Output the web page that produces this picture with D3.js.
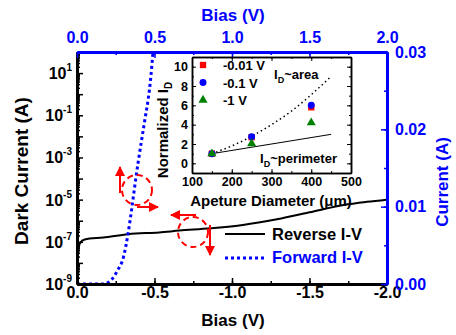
<!DOCTYPE html>
<html>
<head>
<meta charset="utf-8">
<script src="https://cdn.jsdelivr.net/npm/d3@7"></script>
<style>
  body { margin: 0; background: #fff; }
  text { font-family: Arial, "Liberation Sans", sans-serif; font-weight: bold; }
</style>
</head>
<body>
<script>
// reverse I-V (bottom + left log axes)
var revBias = [0, -0.002, -0.008, -0.019, -0.05, -0.17, -0.33, -0.53, -0.66, -0.86, -1.07, -1.29, -1.5, -1.72, -1.87, -2.0];
var revCurrent = [1e-9, 5e-9, 3e-8, 8.7e-8, 1.3e-7, 1.6e-7, 2.3e-7, 2.8e-7, 3.4e-7, 4.4e-7, 6.3e-7, 1.17e-6, 2.5e-6, 5.6e-6, 7.9e-6, 1.0e-5];

// forward I-V (top + right linear axes)
var fwdBias = [0, 0.1, 0.17, 0.22, 0.26, 0.30, 0.33, 0.355, 0.375, 0.395, 0.42, 0.44, 0.46, 0.475, 0.49];
var fwdCurrent = [0, 0, 0, 0.0005, 0.0017, 0.0035, 0.0066, 0.0100, 0.0130, 0.0158, 0.0190, 0.0215, 0.0240, 0.0265, 0.0300];

var logTickLabels = [1e-9, 1e-7, 1e-5, 1e-3, 1e-1, 1e1];

// inset
var diameters = [150, 250, 400];
var nd001 = [1, 2.7, 5.8];
var nd01 = [1, 2.75, 6.0];
var nd1 = [1, 2.05, 4.2];
var areaD = [150, 200, 250, 300, 350, 400, 450];
var areaN = [1, 1.8, 2.8, 4, 5.4, 7.1, 9];
var perimD = [150, 450];
var perimN = [1, 3];

var svg = d3.select("body").append("svg")
            .attr("width", 456)
            .attr("height", 335);

var L = 77, R = 387, T = 52, B = 284;

var xBot = d3.scaleLinear().domain([0, -2]).range([L, R]);
var xTop = d3.scaleLinear().domain([0, 2]).range([L, R]);
var yLog = d3.scaleLog().domain([1e-9, 1e2]).range([B, T]);
var yLin = d3.scaleLinear().domain([0, 0.03]).range([B, T]);

svg.append("clipPath").attr("id", "clip")
   .append("rect").attr("x", L).attr("y", T).attr("width", R - L).attr("height", B - T);

var plot = svg.append("g").attr("clip-path", "url(#clip)");

plot.append("path")
    .datum(d3.range(revBias.length))
    .attr("fill", "none")
    .attr("stroke", "#000")
    .attr("stroke-width", 2)
    .attr("d", d3.line().curve(d3.curveMonotoneX)
                 .x(function(i){ return xBot(revBias[i]); })
                 .y(function(i){ return yLog(revCurrent[i]); }));

plot.append("path")
    .datum(d3.range(fwdBias.length))
    .attr("fill", "none")
    .attr("stroke", "#0000ff")
    .attr("stroke-width", 3)
    .attr("stroke-dasharray", "3,3")
    .attr("d", d3.line().curve(d3.curveMonotoneX)
                 .x(function(i){ return xTop(fwdBias[i]); })
                 .y(function(i){ return yLin(fwdCurrent[i]); }));

// axes -- ticks point inward
function styleAxis(g, color, width) {
  g.select(".domain").attr("stroke", color).attr("stroke-width", width);
  g.selectAll(".tick line").attr("stroke", color).attr("stroke-width", 1.5);
  g.selectAll("text").attr("fill", color).style("font-size", "16px")
   .style("font-family", "Arial, 'Liberation Sans', sans-serif").style("font-weight", "bold");
}
var fmt1 = function(d){ return d.toFixed(1); };

// bottom
svg.append("g").attr("transform", "translate(0," + B + ")")
   .call(d3.axisBottom(xBot).tickValues(d3.range(0, -2.01, -0.25)).tickFormat("").tickSizeInner(-3).tickSizeOuter(0))
   .call(styleAxis, "#000", 3);
svg.append("g").attr("transform", "translate(0," + B + ")")
   .call(d3.axisBottom(xBot).tickValues([0, -0.5, -1, -1.5, -2]).tickFormat(fmt1).tickSizeInner(-6).tickSizeOuter(0).tickPadding(3))
   .call(styleAxis, "#000", 3);

// left (log)
var minorLog = [];
d3.range(-9, 2).forEach(function(e){ for (var m = 2; m < 10; m++) minorLog.push(m * Math.pow(10, e)); });
svg.append("g").attr("transform", "translate(" + L + ",0)")
   .call(d3.axisLeft(yLog).tickValues(minorLog).tickFormat("").tickSizeInner(-3).tickSizeOuter(0))
   .call(styleAxis, "#000", 3);
svg.append("g").attr("transform", "translate(" + L + ",0)")
   .call(d3.axisLeft(yLog).tickValues(d3.range(-9, 3).map(function(e){ return Math.pow(10, e); }))
           .tickFormat("").tickSizeInner(-6).tickSizeOuter(0))
   .call(styleAxis, "#000", 3);
var logLab = svg.append("g").selectAll("text").data(logTickLabels).enter()
   .append("text")
   .attr("x", 72)
   .attr("y", function(d){ return yLog(d) + 6; })
   .attr("text-anchor", "end")
   .style("font-size", "16px");
logLab.append("tspan").text("10");
logLab.append("tspan").attr("dy", -8).style("font-size", "10px")
   .text(function(d){ return Math.round(Math.log10(d)); });

// top
svg.append("g").attr("transform", "translate(0," + T + ")")
   .call(d3.axisTop(xTop).tickValues(d3.range(0, 2.01, 0.25)).tickFormat("").tickSizeInner(-3).tickSizeOuter(0))
   .call(styleAxis, "#0000ff", 3);
svg.append("g").attr("transform", "translate(0," + T + ")")
   .call(d3.axisTop(xTop).tickValues([0, 0.5, 1, 1.5, 2]).tickFormat(fmt1).tickSizeInner(-6).tickSizeOuter(0).tickPadding(9))
   .call(styleAxis, "#0000ff", 3);

// right
svg.append("g").attr("transform", "translate(" + R + ",0)")
   .call(d3.axisRight(yLin).tickValues(d3.range(0, 0.0301, 0.005)).tickFormat("").tickSizeInner(-3).tickSizeOuter(0))
   .call(styleAxis, "#0000ff", 3);
svg.append("g").attr("transform", "translate(" + R + ",0)")
   .call(d3.axisRight(yLin).tickValues([0, 0.01, 0.02, 0.03]).tickFormat(d3.format(".2f")).tickSizeInner(-6).tickSizeOuter(0).tickPadding(8))
   .call(styleAxis, "#0000ff", 3);

// axis titles
svg.append("text").attr("x", 233).attr("y", 326).attr("text-anchor", "middle")
   .style("font-size", "17px").text("Bias (V)");
svg.append("text").attr("x", 233).attr("y", 21).attr("text-anchor", "middle")
   .style("font-size", "17px").attr("fill", "#0000ff").text("Bias (V)");
svg.append("text").attr("transform", "translate(28,171) rotate(-90)").attr("text-anchor", "middle")
   .style("font-size", "19px").text("Dark Current (A)");
svg.append("text").attr("transform", "translate(448,182) rotate(-90)").attr("text-anchor", "middle")
   .style("font-size", "17px").attr("fill", "#0000ff").text("Current (A)");

// main legend
svg.append("line").attr("x1", 225).attr("x2", 265).attr("y1", 234).attr("y2", 234)
   .attr("stroke", "#000").attr("stroke-width", 2);
svg.append("text").attr("x", 272).attr("y", 240).style("font-size", "16.5px").text("Reverse I-V");
svg.append("line").attr("x1", 225).attr("x2", 265).attr("y1", 258).attr("y2", 258)
   .attr("stroke", "#0000ff").attr("stroke-width", 3).attr("stroke-dasharray", "3,3");
svg.append("text").attr("x", 272).attr("y", 263).style("font-size", "16.5px").attr("fill", "#0000ff").text("Forward I-V");

// red annotations
svg.append("defs").append("marker")
   .attr("id", "arr").attr("viewBox", "0 0 10 10").attr("refX", 9).attr("refY", 5)
   .attr("markerWidth", 5).attr("markerHeight", 5).attr("orient", "auto")
   .append("path").attr("d", "M0,0L10,5L0,10z").attr("fill", "#ff0000");
var red = svg.append("g").attr("stroke", "#ff0000").attr("stroke-width", 2).attr("fill", "none");
red.append("circle").attr("cx", 137).attr("cy", 190).attr("r", 15).attr("stroke-dasharray", "6,4");
red.append("line").attr("x1", 120).attr("y1", 193).attr("x2", 120).attr("y2", 167).attr("marker-end", "url(#arr)");
red.append("line").attr("x1", 137).attr("y1", 207).attr("x2", 158).attr("y2", 207).attr("marker-end", "url(#arr)");
red.append("circle").attr("cx", 193).attr("cy", 232).attr("r", 15).attr("stroke-dasharray", "6,4");
red.append("line").attr("x1", 196).attr("y1", 215).attr("x2", 171).attr("y2", 215).attr("marker-end", "url(#arr)");
red.append("line").attr("x1", 210).attr("y1", 225).attr("x2", 210).attr("y2", 255).attr("marker-end", "url(#arr)");

// inset
var iL = 192, iR = 351, iT = 57, iB = 173;
var ix = d3.scaleLinear().domain([100, 500]).range([iL, iR]);
var iy = d3.scaleLinear().domain([-1, 11]).range([iB, iT]);

var inset = svg.append("g");
inset.append("rect").attr("x", iL).attr("y", iT).attr("width", iR - iL).attr("height", iB - iT)
     .attr("fill", "#fff");

function styleInset(g) {
  g.select(".domain").attr("stroke", "#000").attr("stroke-width", 1.5);
  g.selectAll(".tick line").attr("stroke", "#000").attr("stroke-width", 1);
  g.selectAll("text").attr("fill", "#000").style("font-size", "12.5px")
   .style("font-family", "Arial, 'Liberation Sans', sans-serif").style("font-weight", "bold");
}
var ixMinor = d3.range(100, 501, 50), iyMinor = d3.range(-1, 11.01, 1);
inset.append("g").attr("transform", "translate(0," + iB + ")")
     .call(d3.axisBottom(ix).tickValues(ixMinor).tickFormat("").tickSizeInner(-2).tickSizeOuter(0)).call(styleInset);
inset.append("g").attr("transform", "translate(0," + iB + ")")
     .call(d3.axisBottom(ix).tickValues(d3.range(100, 501, 100)).tickSizeInner(-4).tickSizeOuter(0).tickPadding(4)).call(styleInset);
inset.append("g").attr("transform", "translate(0," + iT + ")")
     .call(d3.axisTop(ix).tickValues(ixMinor).tickFormat("").tickSizeInner(-2).tickSizeOuter(0)).call(styleInset);
inset.append("g").attr("transform", "translate(0," + iT + ")")
     .call(d3.axisTop(ix).tickValues(d3.range(100, 501, 100)).tickFormat("").tickSizeInner(-4).tickSizeOuter(0)).call(styleInset);
inset.append("g").attr("transform", "translate(" + iL + ",0)")
     .call(d3.axisLeft(iy).tickValues(iyMinor).tickFormat("").tickSizeInner(-2).tickSizeOuter(0)).call(styleInset);
inset.append("g").attr("transform", "translate(" + iL + ",0)")
     .call(d3.axisLeft(iy).tickValues(d3.range(0, 11, 2)).tickSizeInner(-4).tickSizeOuter(0).tickPadding(4)).call(styleInset);
inset.append("g").attr("transform", "translate(" + iR + ",0)")
     .call(d3.axisRight(iy).tickValues(iyMinor).tickFormat("").tickSizeInner(-2).tickSizeOuter(0)).call(styleInset);
inset.append("g").attr("transform", "translate(" + iR + ",0)")
     .call(d3.axisRight(iy).tickValues(d3.range(0, 11, 2)).tickFormat("").tickSizeInner(-4).tickSizeOuter(0)).call(styleInset);

inset.append("path").datum(d3.range(areaD.length))
     .attr("fill", "none").attr("stroke", "#000").attr("stroke-width", 1.5).attr("stroke-dasharray", "1.5,3")
     .attr("d", d3.line().curve(d3.curveMonotoneX).x(function(i){ return ix(areaD[i]); }).y(function(i){ return iy(areaN[i]); }));
inset.append("path").datum(d3.range(perimD.length))
     .attr("fill", "none").attr("stroke", "#000").attr("stroke-width", 1)
     .attr("d", d3.line().x(function(i){ return ix(perimD[i]); }).y(function(i){ return iy(perimN[i]); }));

var sq = d3.symbol().type(d3.symbolSquare).size(40);
var ci = d3.symbol().type(d3.symbolCircle).size(38);
var tr = d3.symbol().type(d3.symbolTriangle).size(36);

inset.selectAll(".p1").data(diameters).enter().append("path")
     .attr("transform", function(d, i){ return "translate(" + ix(d) + "," + iy(nd001[i]) + ")"; })
     .attr("d", sq).attr("fill", "#ff0000");
inset.selectAll(".p2").data(diameters).enter().append("path")
     .attr("transform", function(d, i){ return "translate(" + ix(d) + "," + iy(nd01[i]) + ")"; })
     .attr("d", ci).attr("fill", "#0000ff");
inset.selectAll(".p3").data(diameters).enter().append("path")
     .attr("transform", function(d, i){ return "translate(" + ix(d) + "," + iy(nd1[i]) + ")"; })
     .attr("d", tr).attr("fill", "#008000");

// inset legend
var legItems = [["-0.01 V", sq, "#ff0000"], ["-0.1 V", ci, "#0000ff"], ["-1 V", tr, "#008000"]];
legItems.forEach(function(it, i){
  var yy = 65 + i * 17.5;
  inset.append("path").attr("transform", "translate(203," + yy + ")").attr("d", it[1]).attr("fill", it[2]);
  inset.append("text").attr("x", 223).attr("y", yy + 5).style("font-size", "13px").text(it[0]);
});

var ta = inset.append("text").attr("x", 274).attr("y", 79).style("font-size", "13px");
ta.append("tspan").text("I");
ta.append("tspan").attr("dy", 4).style("font-size", "9px").text("D");
ta.append("tspan").attr("dy", -4).text("~area");
var tp = inset.append("text").attr("x", 260).attr("y", 163).style("font-size", "13px");
tp.append("tspan").text("I");
tp.append("tspan").attr("dy", 4).style("font-size", "9px").text("D");
tp.append("tspan").attr("dy", -4).text("~perimeter");

inset.append("text").attr("x", 271).attr("y", 206).attr("text-anchor", "middle")
     .style("font-size", "15px").text("Apeture Diameter (\u03bcm)");
var ny = inset.append("text").attr("transform", "translate(168,130) rotate(-90)").attr("text-anchor", "middle")
     .style("font-size", "15px");
ny.append("tspan").text("Normalized I");
ny.append("tspan").attr("dy", 4).style("font-size", "10px").text("D");
</script>
</body>
</html>
